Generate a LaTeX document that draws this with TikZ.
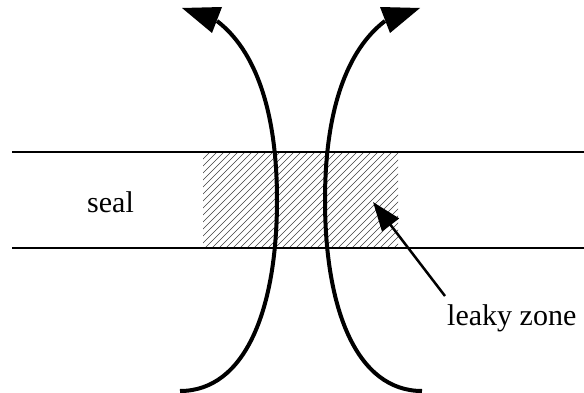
\documentclass[tikz,border=0pt]{standalone}
\usepackage{fontspec}
\setmainfont{Liberation Serif}
\usetikzlibrary{arrows.meta}
\begin{document}
\begin{tikzpicture}[x=1pt,y=-1pt,
  sealline/.style={line width=2pt},
  flow/.style={line width=4pt},
  hatchline/.style={line width=0.7pt, black!75},
  label/.style={inner sep=0pt, anchor=base west, font=\fontsize{30}{34}\selectfont},
  leader/.style={line width=2.5pt, -{Triangle[length=29pt,width=21pt]}}]
\useasboundingbox (0,0) rectangle (584,393);
% hatched leaky zone
\begin{scope}
  \clip (203,152) rectangle (398,248);
  \foreach \i in {0,...,43} {
    \draw[hatchline] ({107+7*\i},248) -- ++(96,-96);
  }
\end{scope}
% seal boundaries
\coordinate (sTL) at (12,152);
\coordinate (sTR) at (584,152);
\coordinate (sBL) at (12,248);
\coordinate (sBR) at (584,248);
\draw[sealline] (sTL) -- (sTR);
\draw[sealline] (sBL) -- (sBR);
% left flow arrow
\coordinate (lA) at (180,391);
\coordinate (lB) at (277,200);
\coordinate (lC) at (217,21);
\draw[flow] (lA) .. controls (245,391) and (277,310) .. (lB)
                 .. controls (277,110) and (255,50) .. (lC);
\fill (182,8) -- (222,7) -- (212,33) -- cycle;
% right flow arrow
\coordinate (rA) at (422,391);
\coordinate (rB) at (325,200);
\coordinate (rC) at (385,21);
\draw[flow] (rA) .. controls (357,391) and (325,310) .. (rB)
                 .. controls (325,110) and (347,50) .. (rC);
\fill (420,8) -- (380,7) -- (390,33) -- cycle;
% labels
\node[label] (seal) at (87,212) {seal};
\node[label] (leaky) at (447,325) {leaky zone};
\coordinate (lz) at (445,296);
\coordinate (lzt) at (373,202);
\draw[leader] (lz) -- (lzt);
\end{tikzpicture}
\end{document}
